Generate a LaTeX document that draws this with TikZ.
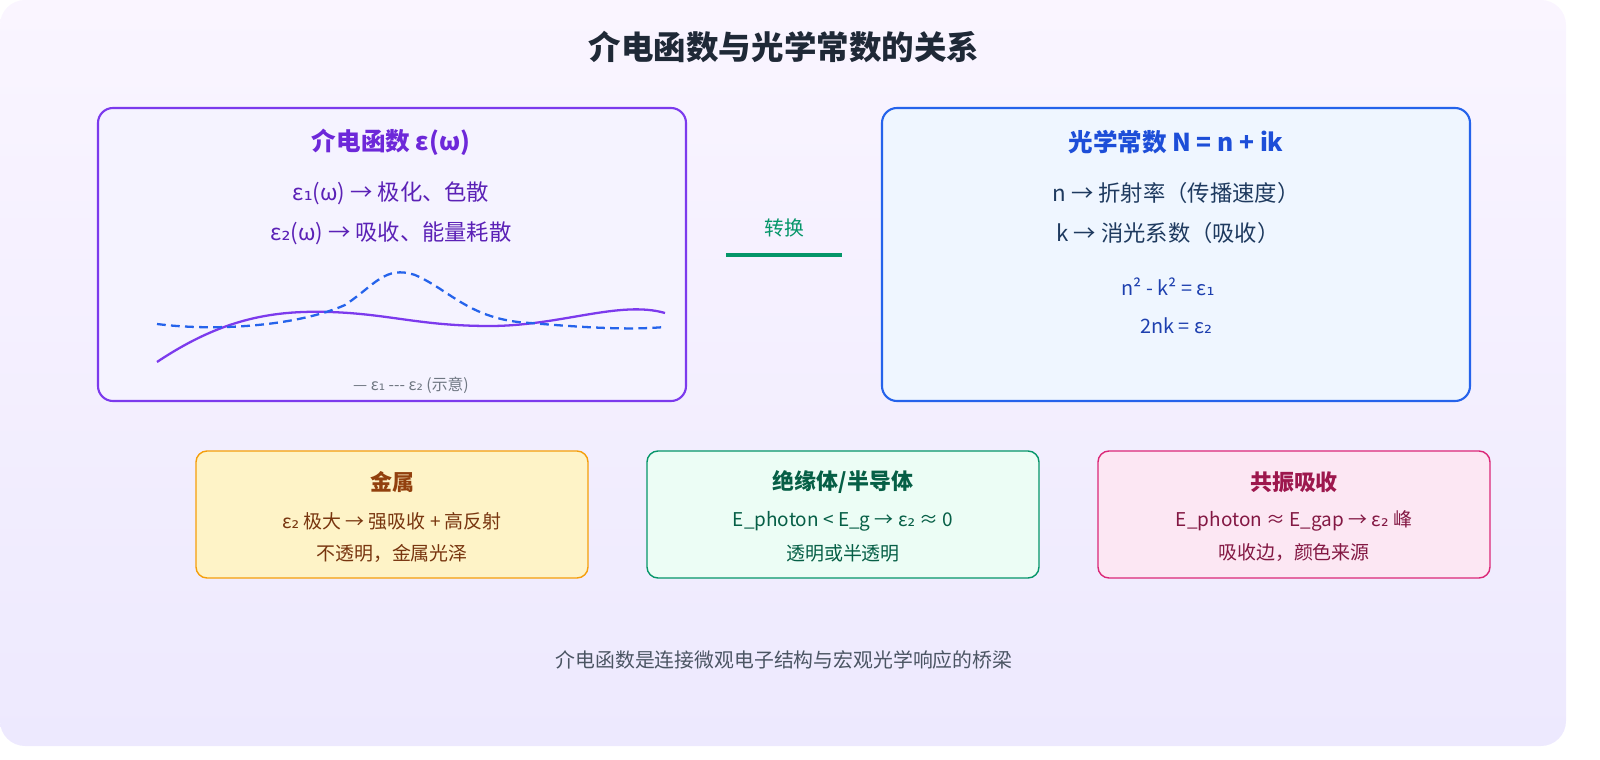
\documentclass[tikz,border=0pt]{standalone}
\usepackage{fontspec}
\setmainfont{Noto Sans CJK SC}
\newfontfamily\dv{DejaVu Sans}
\newcommand{\sone}{{\dv ₁}}
\newcommand{\stwo}{{\dv ₂}}
\usetikzlibrary{positioning}
\definecolor{bgtop}{HTML}{FAF5FF}
\definecolor{bgbot}{HTML}{EDE9FE}
\definecolor{ink}{HTML}{1F2937}
\definecolor{purp}{HTML}{7C3AED}
\definecolor{purpd}{HTML}{6D28D9}
\definecolor{purpt}{HTML}{5B21B6}
\definecolor{purpf}{HTML}{F5F3FF}
\definecolor{blu}{HTML}{2563EB}
\definecolor{blud}{HTML}{1D4ED8}
\definecolor{blut}{HTML}{1E40AF}
\definecolor{bluf}{HTML}{EFF6FF}
\definecolor{navy}{HTML}{1E3A5F}
\definecolor{grn}{HTML}{059669}
\definecolor{grnd}{HTML}{065F46}
\definecolor{grnf}{HTML}{ECFDF5}
\definecolor{amb}{HTML}{F59E0B}
\definecolor{ambd}{HTML}{92400E}
\definecolor{ambt}{HTML}{78350F}
\definecolor{ambf}{HTML}{FEF3C7}
\definecolor{pnk}{HTML}{DB2777}
\definecolor{pnkd}{HTML}{9D174D}
\definecolor{pnkt}{HTML}{831843}
\definecolor{pnkf}{HTML}{FCE7F3}
\definecolor{gry}{HTML}{4B5563}
\begin{document}
\begin{tikzpicture}[x=0.02cm,y=-0.02cm,
  box/.style={rounded corners=0.3cm,line width=1.2pt},
  smallbox/.style={rounded corners=0.22cm,line width=0.8pt}]
\path[use as bounding box] (0,0) rectangle (1600,760);
\shade[top color=bgtop,bottom color=bgbot,rounded corners=0.5cm] (0,0) rectangle (1566,746);
\node[font=\bfseries\fontsize{18.5}{22}\selectfont,text=ink] (title) at (784,47) {介电函数与光学常数的关系};

% left: dielectric function
\draw[box,draw=purp,fill=purpf] (98,108) rectangle (686,401);
\node[font=\bfseries\fontsize{14}{17}\selectfont,text=purpd] (epsT) at (391,142) {介电函数 ε(ω)};
\node[font=\fontsize{12.7}{15}\selectfont,text=purpt] (eps1) at (391,193) {ε\sone(ω) → 极化、色散};
\node[font=\fontsize{12.7}{15}\selectfont,text=purpt] (eps2) at (391,233) {ε\stwo(ω) → 吸收、能量耗散};
\draw[purp,line width=1.3pt] (157,362) .. controls (220,320) and (270,310) .. (330,312)
  .. controls (390,314) and (420,326) .. (490,326) .. controls (560,326) and (620,300) .. (665,313);
\draw[blu,line width=1.3pt,dash pattern=on 5pt off 3pt] (157,324) .. controls (220,332) and (300,325) .. (345,305)
  .. controls (375,285) and (385,265) .. (415,275) .. controls (450,290) and (470,320) .. (530,323)
  .. controls (590,328) and (630,330) .. (665,327);
\node[font=\fontsize{9}{11}\selectfont,text=gry!80] (legend) at (411,385) {— ε\sone{} {-}{-}{-} ε\stwo{} (示意)};

% conversion
\node[font=\fontsize{11.3}{13}\selectfont,text=grn] (conv) at (784,228) {转换};
\coordinate (cL) at (726,255);
\coordinate (cR) at (842,255);
\draw[grn,line width=2.6pt] (cL) -- (cR);

% right: optical constants
\draw[box,draw=blu,fill=bluf] (882,108) rectangle (1470,401);
\node[font=\bfseries\fontsize{14}{17}\selectfont,text=blud] (optT) at (1176,142) {光学常数 N = n + ik};
\node[font=\fontsize{12.7}{15}\selectfont,text=navy] (nline) at (1176,193) {n → 折射率（传播速度）};
\node[font=\fontsize{12.7}{15}\selectfont,text=navy] (kline) at (1168,233) {k → 消光系数（吸收）};
\node[font=\fontsize{11.3}{13}\selectfont,text=blut] (rel1) at (1168,287) {n² - k² = ε\sone};
\node[font=\fontsize{11.3}{13}\selectfont,text=blut] (rel2) at (1176,326) {2nk = ε\stwo};

% bottom cases
\draw[smallbox,draw=amb,fill=ambf] (196,451) rectangle (588,578);
\node[font=\bfseries\fontsize{12.5}{15}\selectfont,text=ambd] (metT) at (392,482) {金属};
\node[font=\fontsize{10.8}{13}\selectfont,text=ambt] (met1) at (392,521) {ε\stwo{} 极大 → 强吸收 + 高反射};
\node[font=\fontsize{10.8}{13}\selectfont,text=ambt] (met2) at (392,553) {不透明，金属光泽};

\draw[smallbox,draw=grn,fill=grnf] (647,451) rectangle (1039,578);
\node[font=\bfseries\fontsize{12.5}{15}\selectfont,text=grnd] (insT) at (843,482) {绝缘体/半导体};
\node[font=\fontsize{10.8}{13}\selectfont,text=grnd] (ins1) at (843,521) {E\_photon < E\_g → ε\stwo{} ≈ 0};
\node[font=\fontsize{10.8}{13}\selectfont,text=grnd] (ins2) at (843,553) {透明或半透明};

\draw[smallbox,draw=pnk,fill=pnkf] (1098,451) rectangle (1490,578);
\node[font=\bfseries\fontsize{12.5}{15}\selectfont,text=pnkd] (resT) at (1294,482) {共振吸收};
\node[font=\fontsize{10.8}{13}\selectfont,text=pnkt] (res1) at (1294,521) {E\_photon ≈ E\_gap → ε\stwo{} 峰};
\node[font=\fontsize{10.8}{13}\selectfont,text=pnkt] (res2) at (1294,553) {吸收边，颜色来源};

\node[font=\fontsize{11.3}{13}\selectfont,text=gry] (foot) at (784,660) {介电函数是连接微观电子结构与宏观光学响应的桥梁};
\end{tikzpicture}
\end{document}
